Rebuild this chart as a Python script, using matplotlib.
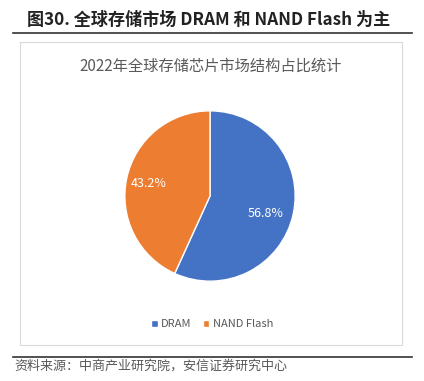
import matplotlib.pyplot as plt
from matplotlib.patches import Rectangle

plt.rcParams['font.family'] = ['Noto Sans CJK SC', 'DejaVu Sans']

categories = ['DRAM', 'NAND Flash']
shares = [56.8, 43.2]
colors = ['#4472C4', '#ED7D31']

W, H = 424, 381
fig = plt.figure(figsize=(W / 100, H / 100), dpi=100)

def fx(x):
    return x / W

def fy(y):
    return 1 - y / H

# header
fig.text(fx(27), fy(20), '图30. 全球存储市场 DRAM 和 NAND Flash 为主', fontsize=12.3,
         fontweight='bold', color='#222222', va='center', ha='left')
fig.add_artist(plt.Line2D([fx(13), fx(412)], [fy(33), fy(33)], color='#333333', lw=1.2))

# chart box
fig.add_artist(Rectangle((fx(20), fy(345)), fx(382), (345 - 42) / H, fill=False,
                         edgecolor='#D9D9D9', lw=0.8))
fig.text(fx(211), fy(66), '2022年全球存储芯片市场结构占比统计', fontsize=11, color='#595959',
         ha='center', va='center')

# pie
ax = fig.add_axes([fx(124), fy(282), 172 / W, 172 / H])
wedges, texts = ax.pie(shares, colors=colors, startangle=90, counterclock=False,
                       wedgeprops=dict(edgecolor='white', linewidth=1))
ax.set_xlim(-1.01, 1.01)
ax.set_ylim(-1.01, 1.01)
ax.set_aspect('equal')
lbl_pos = [(0.65, -0.20), (-0.72, 0.15)]
for s, (x, y) in zip(shares, lbl_pos):
    ax.text(x, y, f'{s:.1f}%', color='white', fontsize=9, ha='center', va='center')

# legend
leg = fig.legend(wedges, categories, loc='center', bbox_to_anchor=(fx(212), fy(324)),
                 ncol=2, frameon=False, fontsize=8, handlelength=0.6, handleheight=0.6,
                 handletextpad=0.3, columnspacing=1.0)
for t in leg.get_texts():
    t.set_color('#595959')

# footer
fig.add_artist(plt.Line2D([fx(13), fx(412)], [fy(357), fy(357)], color='#333333', lw=1.2))
fig.text(fx(14), fy(366), '资料来源：中商产业研究院，安信证券研究中心', fontsize=9.4,
         color='#595959', style='italic', va='center', ha='left')

fig.savefig('out.png', dpi=100)
